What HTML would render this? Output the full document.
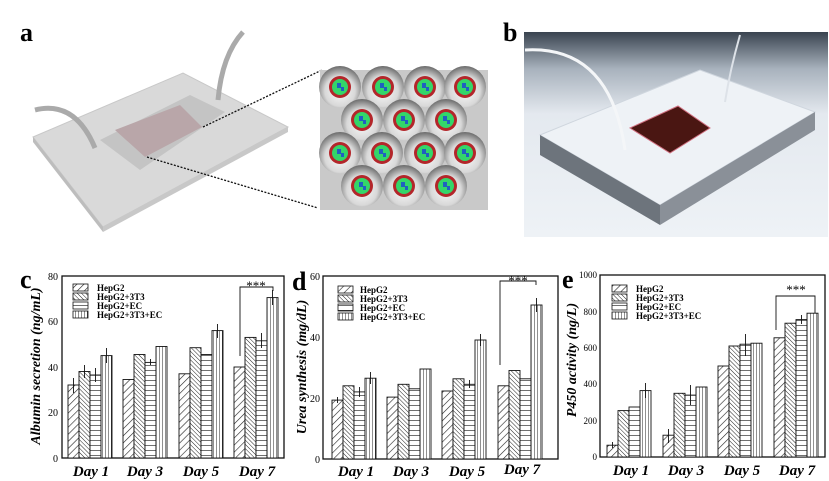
<!DOCTYPE html>
<html><head><meta charset="utf-8"><style>
html,body{margin:0;padding:0;background:#fff;}
svg{display:block;font-family:"Liberation Serif",serif;}
.tk{font-size:10px;text-anchor:end;}
.lg{font-size:9px;font-weight:bold;}
.dy{font-size:15px;font-weight:bold;font-style:italic;text-anchor:middle;}
.yt{font-size:14px;font-weight:bold;font-style:italic;text-anchor:middle;}
.pl{font-size:26px;font-weight:bold;}
</style></head><body>
<svg width="829" height="481" viewBox="0 0 829 481" xmlns="http://www.w3.org/2000/svg">
<defs>
<pattern id="p1" width="5" height="5" patternUnits="userSpaceOnUse" patternTransform="rotate(45)"><rect width="5" height="5" fill="#fff"/><line x1="0" y1="0" x2="0" y2="5" stroke="#222" stroke-width="1.2"/></pattern>
<pattern id="p2" width="3" height="3" patternUnits="userSpaceOnUse" patternTransform="rotate(-45)"><rect width="3" height="3" fill="#fff"/><line x1="0" y1="0" x2="0" y2="3" stroke="#222" stroke-width="1"/></pattern>
<pattern id="p3" width="5" height="5" patternUnits="userSpaceOnUse"><rect width="5" height="5" fill="#fff"/><line x1="0" y1="0" x2="5" y2="0" stroke="#222" stroke-width="1.3"/></pattern>
<pattern id="p4" width="3" height="3" patternUnits="userSpaceOnUse"><rect width="3" height="3" fill="#fff"/><line x1="0" y1="0" x2="0" y2="3" stroke="#222" stroke-width="1"/></pattern>
<radialGradient id="sph" cx="0.5" cy="0.6" r="0.6"><stop offset="0" stop-color="#fafafa"/><stop offset="0.6" stop-color="#d8d8d8"/><stop offset="1" stop-color="#6a6a6a"/></radialGradient>
<linearGradient id="photo" x1="0" y1="0" x2="0" y2="1"><stop offset="0" stop-color="#3a4450"/><stop offset="0.18" stop-color="#a8b2bd"/><stop offset="0.4" stop-color="#e4e9ef"/><stop offset="1" stop-color="#eef2f6"/></linearGradient>
<g id="cell"><circle r="21" fill="url(#sph)"/><circle r="11" fill="#b3262a"/><circle r="8" fill="#33d66a"/><rect x="-3" y="-4" width="4" height="5" fill="#2060c0"/><rect x="1" y="0" width="3" height="4" fill="#2060c0"/></g>
</defs>

<!-- panel a -->
<text class="pl" x="20" y="41">a</text>
<polygon points="33,137 183,73 288,127 103,227" fill="#d9d9d9" stroke="#c8c8c8"/>
<polygon points="33,137 103,227 103,232 33,142" fill="#bdbdbd"/>
<polygon points="103,227 288,127 288,132 103,232" fill="#c8c8c8"/>
<polygon points="100,140 190,95 225,112 140,170" fill="#c4c4c4"/>
<polygon points="115,130 180,105 202,127 145,157" fill="#b9a6a9"/>
<path d="M35,110 Q75,100 95,148" stroke="#aaa" stroke-width="5" fill="none"/>
<path d="M243,32 Q222,55 218,100" stroke="#aaa" stroke-width="5" fill="none"/>
<line x1="203" y1="127" x2="322" y2="70" stroke="#111" stroke-width="1.3" stroke-dasharray="2,1.5"/>
<line x1="147" y1="157" x2="318" y2="208" stroke="#111" stroke-width="1.3" stroke-dasharray="2,1.5"/>
<rect x="320" y="70" width="168" height="140" fill="#c9c9c9"/>
<g>
<use href="#cell" x="340" y="87"/><use href="#cell" x="383" y="87"/><use href="#cell" x="425" y="87"/><use href="#cell" x="465" y="87"/>
<use href="#cell" x="362" y="120"/><use href="#cell" x="404" y="120"/><use href="#cell" x="446" y="120"/>
<use href="#cell" x="340" y="153"/><use href="#cell" x="382" y="153"/><use href="#cell" x="425" y="153"/><use href="#cell" x="465" y="153"/>
<use href="#cell" x="362" y="186"/><use href="#cell" x="404" y="186"/><use href="#cell" x="446" y="186"/>
</g>

<!-- panel b -->
<text class="pl" x="503" y="41">b</text>
<rect x="524" y="32" width="304" height="205" fill="url(#photo)"/>
<polygon points="540,135 700,70 815,112 660,205" fill="#eef2f6" stroke="#cfd6de"/>
<polygon points="540,135 660,205 660,225 540,155" fill="#6d747c"/>
<polygon points="660,205 815,112 815,130 660,225" fill="#8a9098"/>
<polygon points="630,128 678,106 710,128 670,153" fill="#4a1612" stroke="#d07080"/>
<path d="M525,50 Q610,45 625,150" stroke="#f4f6f8" stroke-width="3" fill="none"/>
<path d="M740,35 Q730,70 725,102" stroke="#dde2e8" stroke-width="2" fill="none"/>

<!-- panel c -->
<text class="pl" x="20" y="288">c</text>
<rect x="62" y="276" width="222" height="182" fill="none" stroke="#111" stroke-width="1.3"/>
<g class="tk"><text x="58" y="280">80</text><text x="58" y="325">60</text><text x="58" y="371">40</text><text x="58" y="416">20</text><text x="58" y="462">0</text></g>
<text class="yt" transform="translate(40,366) rotate(-90)">Albumin secretion (ng/mL)</text>
<g stroke="#111" stroke-width="0.9">
<rect x="68" y="385" width="11" height="73" fill="url(#p1)"/><rect x="79" y="371.5" width="11" height="86.5" fill="url(#p2)"/><rect x="90" y="375" width="11" height="83" fill="url(#p3)"/><rect x="101" y="355.6" width="11" height="102.4" fill="url(#p4)"/>
<rect x="123" y="379.5" width="11" height="78.5" fill="url(#p1)"/><rect x="134" y="354.5" width="11" height="103.5" fill="url(#p2)"/><rect x="145" y="362.4" width="11" height="95.6" fill="url(#p3)"/><rect x="156" y="346.5" width="11" height="111.5" fill="url(#p4)"/>
<rect x="179" y="373.8" width="11" height="84.2" fill="url(#p1)"/><rect x="190" y="347.7" width="11" height="110.3" fill="url(#p2)"/><rect x="201" y="354.5" width="11" height="103.5" fill="url(#p3)"/><rect x="212" y="330.6" width="11" height="127.4" fill="url(#p4)"/>
<rect x="234" y="367" width="11" height="91" fill="url(#p1)"/><rect x="245" y="337.4" width="11" height="120.6" fill="url(#p2)"/><rect x="256" y="340.8" width="11" height="117.2" fill="url(#p3)"/><rect x="267" y="297.6" width="11" height="160.4" fill="url(#p4)"/>
<path d="M73.5,378v15M84.5,365v13M95.5,368v14M106.5,348v15M150.5,359v6M217.5,324v14M261.5,333v15M272.5,290v15" fill="none"/>
<path d="M240,356V287H273V291" fill="none"/>
</g>
<text x="256" y="290" style="font-size:13px;text-anchor:middle">***</text>
<g class="lg">
<rect x="73" y="284" width="15" height="7" fill="url(#p1)" stroke="#111" stroke-width="0.8"/><text x="97" y="291">HepG2</text>
<rect x="73" y="293" width="15" height="7" fill="url(#p2)" stroke="#111" stroke-width="0.8"/><text x="97" y="300">HepG2+3T3</text>
<rect x="73" y="302" width="15" height="7" fill="url(#p3)" stroke="#111" stroke-width="0.8"/><text x="97" y="309">HepG2+EC</text>
<rect x="73" y="311" width="15" height="7" fill="url(#p4)" stroke="#111" stroke-width="0.8"/><text x="97" y="318">HepG2+3T3+EC</text>
</g>
<g class="dy"><text x="91" y="476">Day 1</text><text x="145" y="476">Day 3</text><text x="201" y="476">Day 5</text><text x="257" y="476">Day 7</text></g>

<!-- panel d -->
<text class="pl" x="292" y="290">d</text>
<rect x="323" y="276" width="235" height="183" fill="none" stroke="#111" stroke-width="1.3"/>
<g class="tk"><text x="320" y="280">60</text><text x="320" y="341">40</text><text x="320" y="402">20</text><text x="320" y="463">0</text></g>
<text class="yt" transform="translate(306,367) rotate(-90)">Urea synthesis (mg/dL)</text>
<g stroke="#111" stroke-width="0.9">
<rect x="332" y="400.1" width="11" height="58.9" fill="url(#p1)"/><rect x="343" y="385.8" width="11" height="73.2" fill="url(#p2)"/><rect x="354" y="391.9" width="11" height="67.1" fill="url(#p3)"/><rect x="365" y="378.2" width="11" height="80.8" fill="url(#p4)"/>
<rect x="387" y="397.1" width="11" height="61.9" fill="url(#p1)"/><rect x="398" y="384.3" width="11" height="74.7" fill="url(#p2)"/><rect x="409" y="388.8" width="11" height="70.2" fill="url(#p3)"/><rect x="420" y="369" width="11" height="90" fill="url(#p4)"/>
<rect x="442" y="391" width="11" height="68" fill="url(#p1)"/><rect x="453" y="378.8" width="11" height="80.2" fill="url(#p2)"/><rect x="464" y="384.3" width="11" height="74.7" fill="url(#p3)"/><rect x="475" y="340" width="11" height="119" fill="url(#p4)"/>
<rect x="498" y="385.8" width="11" height="73.2" fill="url(#p1)"/><rect x="509" y="370.5" width="11" height="88.5" fill="url(#p2)"/><rect x="520" y="378.8" width="11" height="80.2" fill="url(#p3)"/><rect x="531" y="305" width="11" height="154" fill="url(#p4)"/>
<path d="M337.5,397v6M359.5,387v10M370.5,372v12M480.5,334v12M536.5,298v14M469.5,380v8" fill="none"/>
<path d="M500,365V281H536V285" fill="none"/>
</g>
<text x="518" y="285" style="font-size:13px;text-anchor:middle">***</text>
<g class="lg">
<rect x="338" y="286" width="15" height="7" fill="url(#p1)" stroke="#111" stroke-width="0.8"/><text x="360" y="293">HepG2</text>
<rect x="338" y="295" width="15" height="7" fill="url(#p2)" stroke="#111" stroke-width="0.8"/><text x="360" y="302">HepG2+3T3</text>
<rect x="338" y="304" width="15" height="7" fill="url(#p3)" stroke="#111" stroke-width="0.8"/><text x="360" y="311">HepG2+EC</text>
<rect x="338" y="313" width="15" height="7" fill="url(#p4)" stroke="#111" stroke-width="0.8"/><text x="360" y="320">HepG2+3T3+EC</text>
</g>
<g class="dy"><text x="356" y="476">Day 1</text><text x="411" y="476">Day 3</text><text x="467" y="476">Day 5</text><text x="522" y="474">Day 7</text></g>

<!-- panel e -->
<text class="pl" x="562" y="288">e</text>
<rect x="600" y="275" width="225" height="182" fill="none" stroke="#111" stroke-width="1.3"/>
<g class="tk" style="font-size:9px"><text x="597" y="278">1000</text><text x="597" y="315">800</text><text x="597" y="351">600</text><text x="597" y="387">400</text><text x="597" y="424">200</text><text x="597" y="460">0</text></g>
<text class="yt" transform="translate(576,360) rotate(-90)">P450 activity (ng/L)</text>
<g stroke="#111" stroke-width="0.9">
<rect x="607" y="445.2" width="11" height="11.8" fill="url(#p1)"/><rect x="618" y="410.6" width="11" height="46.4" fill="url(#p2)"/><rect x="629" y="407" width="11" height="50" fill="url(#p3)"/><rect x="640" y="390.6" width="11" height="66.4" fill="url(#p4)"/>
<rect x="663" y="435.2" width="11" height="21.8" fill="url(#p1)"/><rect x="674" y="393.3" width="11" height="63.7" fill="url(#p2)"/><rect x="685" y="395.1" width="11" height="61.9" fill="url(#p3)"/><rect x="696" y="387" width="11" height="70" fill="url(#p4)"/>
<rect x="718" y="366" width="11" height="91" fill="url(#p1)"/><rect x="729" y="346" width="11" height="111" fill="url(#p2)"/><rect x="740" y="344.2" width="11" height="112.8" fill="url(#p3)"/><rect x="751" y="343.2" width="11" height="113.8" fill="url(#p4)"/>
<rect x="774" y="337.8" width="11" height="119.2" fill="url(#p1)"/><rect x="785" y="323.2" width="11" height="133.8" fill="url(#p2)"/><rect x="796" y="319.6" width="11" height="137.4" fill="url(#p3)"/><rect x="807" y="313.2" width="11" height="143.8" fill="url(#p4)"/>
<path d="M612.5,442v6M645.5,383v15M668.5,429v14M690.5,385v20M745.5,334v22M801.5,315v9" fill="none"/>
<path d="M776,330V296H815V313" fill="none"/>
</g>
<text x="796" y="294" style="font-size:13px;text-anchor:middle">***</text>
<g class="lg">
<rect x="612" y="285" width="15" height="7" fill="url(#p1)" stroke="#111" stroke-width="0.8"/><text x="636" y="292">HepG2</text>
<rect x="612" y="294" width="15" height="7" fill="url(#p2)" stroke="#111" stroke-width="0.8"/><text x="636" y="301">HepG2+3T3</text>
<rect x="612" y="303" width="15" height="7" fill="url(#p3)" stroke="#111" stroke-width="0.8"/><text x="636" y="310">HepG2+EC</text>
<rect x="612" y="312" width="15" height="7" fill="url(#p4)" stroke="#111" stroke-width="0.8"/><text x="636" y="319">HepG2+3T3+EC</text>
</g>
<g class="dy"><text x="631" y="475">Day 1</text><text x="686" y="475">Day 3</text><text x="742" y="475">Day 5</text><text x="797" y="475">Day 7</text></g>
</svg>
</body></html>
